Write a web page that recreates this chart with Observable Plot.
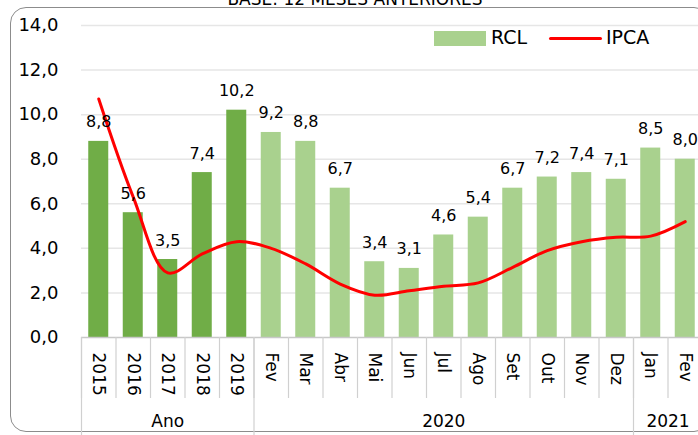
<!DOCTYPE html>
<html>
<head>
<meta charset="utf-8">
<script src="https://cdn.jsdelivr.net/npm/d3@7"></script>
<script src="https://cdn.jsdelivr.net/npm/@observablehq/plot@0.6"></script>
<style>
  html, body { margin: 0; padding: 0; background: #fff; overflow: hidden; }
  #wrap { position: relative; width: 698px; height: 435px; overflow: hidden; font-family: "DejaVu Sans", sans-serif; }
  #frame { position: absolute; left: 10px; top: 7px; width: 700px; height: 425px; border: 1.5px solid #8c8c8c; border-radius: 16px; box-sizing: border-box; }
  #title { position: absolute; left: 0; width: 710px; top: -11px; text-align: center; font-size: 17px; color: #000; white-space: nowrap; }
  #chart { position: absolute; left: 0; top: 0; }
  .leg { position: absolute; font-size: 19px; color: #000; line-height: 1; }
</style>
</head>
<body>
<div id="wrap">
  <div id="frame"></div>
  <div id="title">BASE: 12 MESES ANTERIORES</div>
  <div id="chart"></div>
  <div class="leg" style="left:434px;top:31px;width:52px;height:15px;background:#A9D18E"></div>
  <div class="leg" style="left:491px;top:28px;">RCL</div>
  <div class="leg" style="left:549px;top:37px;width:53px;height:3px;background:#FF0000;border-radius:2px"></div>
  <div class="leg" style="left:606px;top:28px;">IPCA</div>
</div>
<script>
const labels = ["2015","2016","2017","2018","2019","Fev","Mar","Abr","Mai","Jun","Jul","Ago","Set","Out","Nov","Dez","Jan","Fev"];
const groups = ["Ano","Ano","Ano","Ano","Ano","2020","2020","2020","2020","2020","2020","2020","2020","2020","2020","2020","2021","2021"];
const rcl = [8.8, 5.6, 3.5, 7.4, 10.2, 9.2, 8.8, 6.7, 3.4, 3.1, 4.6, 5.4, 6.7, 7.2, 7.4, 7.1, 8.5, 8.0];
const ipca = [10.7, 6.3, 2.9, 3.75, 4.3, 4.0, 3.3, 2.4, 1.9, 2.1, 2.3, 2.45, 3.15, 3.9, 4.3, 4.5, 4.55, 5.2];
const yTicks = [0, 2, 4, 6, 8, 10, 12, 14];
const groupNames = ["Ano", "2020", "2021"];

const idx = labels.map((_, i) => i);
const data = idx.map(i => ({i, label: labels[i], group: groups[i], rcl: rcl[i], ipca: ipca[i]}));
const fmt = v => v.toFixed(1).replace(".", ",");

const W = 698, H = 435, mL = 81, mR = -4, mT = 25, mB = 98;
const step = (W - mL - mR) / labels.length;
const barInset = (step - 20) / 2;

// group label anchors: centre of each group's span
const groupMarks = groupNames.map(g => {
  const members = idx.filter(i => groups[i] === g);
  const first = members[0], last = members[members.length - 1];
  const mid = (first + last) / 2;
  return {g, x: Math.floor(mid), dx: (mid - Math.floor(mid)) * step};
});
const groupStarts = groupNames.map(g => idx.find(i => groups[i] === g));

const groupTextMarks = groupMarks.map(m =>
  Plot.text([m], {x: "x", text: "g", dx: m.dx, frameAnchor: "bottom", dy: 89, fontSize: 17, fill: "#000"})
);

const chart = Plot.plot({
  width: W, height: H,
  marginLeft: mL, marginRight: mR, marginTop: mT, marginBottom: mB,
  style: {fontFamily: "DejaVu Sans, sans-serif", color: "#000", background: "transparent"},
  x: {type: "band", domain: idx, padding: 0, round: false},
  y: {domain: [0, 14]},
  marks: [
    Plot.ruleY(yTicks.filter(t => t > 0), {stroke: "#e6e6e6", strokeWidth: 1.5}),
    Plot.barY(data, {x: "i", y: "rcl", fill: d => d.group === "Ano" ? "#70AD47" : "#A9D18E", insetLeft: barInset, insetRight: barInset}),
    Plot.ruleY([0], {stroke: "#c8c8c8", strokeWidth: 1.5}),
    Plot.ruleX(idx, {x: d => d, y1: 0, y2: 0, dx: -step / 2, insetBottom: -61, stroke: "#d0d0d0", strokeWidth: 1.2}),
    Plot.ruleX(groupStarts, {x: d => d, y1: 0, y2: 0, dx: -step / 2, insetBottom: -100, stroke: "#d0d0d0", strokeWidth: 1.2}),
    Plot.lineY(data, {x: "i", y: "ipca", stroke: "#FF0000", strokeWidth: 3, curve: "catmull-rom"}),
    Plot.text(data, {x: "i", y: "rcl", text: d => fmt(d.rcl), dy: -14, lineAnchor: "bottom", fontSize: 16, fill: "#000"}),
    Plot.axisY({ticks: yTicks, tickFormat: fmt, tickSize: 0, tickPadding: 23, fontSize: 18, label: null}),
    Plot.axisX({tickFormat: i => labels[i], tickRotate: 90, tickSize: 0, tickPadding: 15, fontSize: 17, label: null}),
    ...groupTextMarks
  ]
});
document.getElementById("chart").appendChild(chart);
</script>
</body>
</html>
